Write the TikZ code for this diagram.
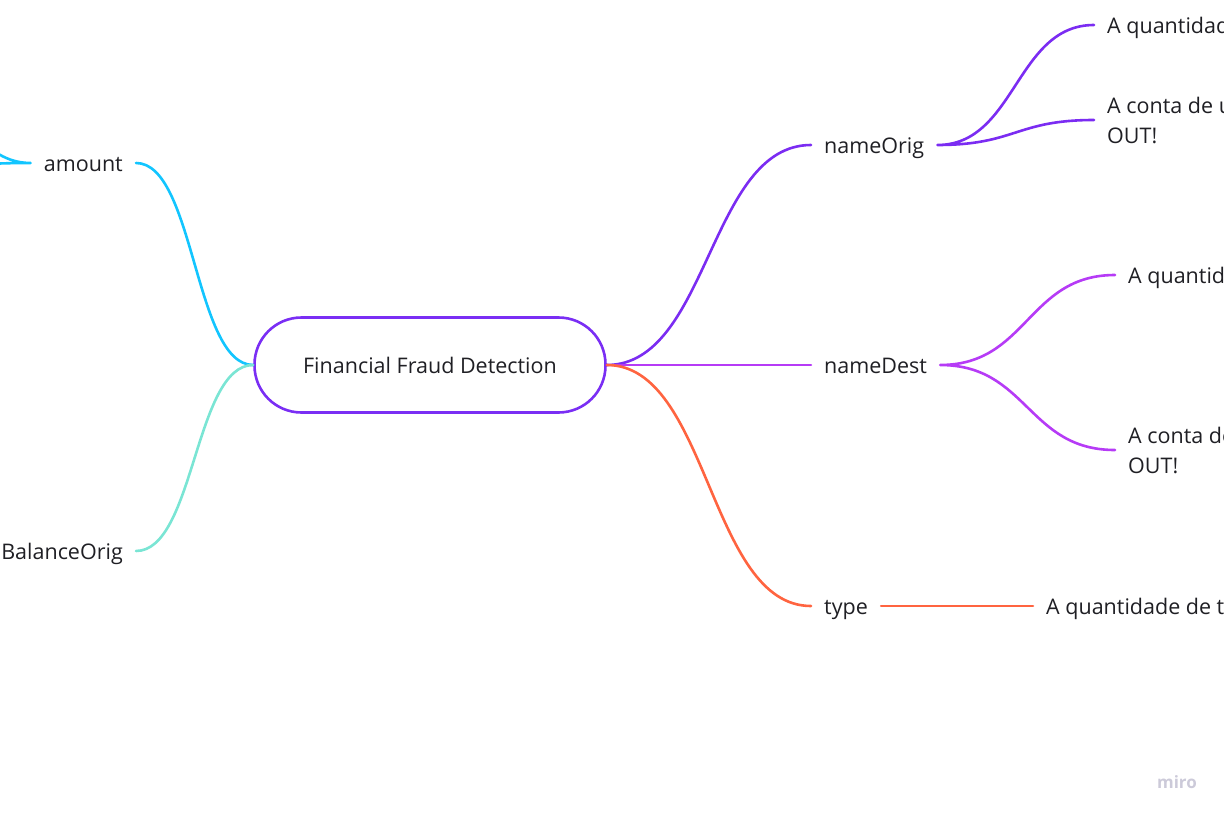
\documentclass[tikz,border=0pt]{standalone}
\usepackage{fontspec}
\setmainfont{Open Sans}
\usetikzlibrary{calc,positioning}
\definecolor{rootline}{HTML}{7A2EF4}
\definecolor{origline}{HTML}{7B2CF2}
\definecolor{destline}{HTML}{B63BF6}
\definecolor{typeline}{HTML}{FF6440}
\definecolor{amountline}{HTML}{12C5FF}
\definecolor{balanceline}{HTML}{7AE5D4}
\definecolor{mirogray}{HTML}{CCCAD9}
\definecolor{labeltext}{HTML}{1F1F24}
\tikzset{
  topic/.style={font=\fontsize{21.5}{30}\selectfont, text=labeltext,
    inner xsep=13pt, inner ysep=4pt},
  single/.style={topic, text height=18.5pt, text depth=1.5pt},
  branch/.style={line width=2.6pt, line cap=round,
    to path={let \p1=(\tikztostart), \p2=(\tikztotarget) in
      .. controls ({0.5*\x1+0.5*\x2},\y1) and ({0.5*\x1+0.5*\x2},\y2)
      .. (\tikztotarget) \tikztonodes}}
}
\begin{document}
\begin{tikzpicture}[x=1pt,y=-1pt]
        \useasboundingbox (0,0) rectangle (1224,816);
        \clip (0,0) rectangle (1224,816);
        % centre
        \node (fraud detection)
          [single, draw=rootline, line width=2.6pt, rounded corners=47pt,
           minimum width=351pt, minimum height=95pt]
          at (430,365) {Financial Fraud Detection};
        % right side
        \node (name orig) [single, anchor=west] at (811,145) {nameOrig};
        \node (name dest) [single, anchor=west] at (811,365) {nameDest};
        \node (type) [single, anchor=west] at (811,606) {type};
        \node (orig count) [single, anchor=west] at (1094,25)
          {A quantidade de transações};
        \node (orig account) [topic, anchor=west, align=left] at (1094,120)
          {A conta de um cliente CASH-\\OUT!};
        \node (dest count) [single, anchor=west] at (1115,275)
          {A quantidade de transações};
        \node (dest account) [topic, anchor=west, align=left] at (1115,450)
          {A conta de destino CASH-\\OUT!};
        \node (type count) [single, anchor=west] at (1033,606)
          {A quantidade de tipos};
        % left side
        \node (amount) [single, anchor=east] at (136,163) {amount};
        \node (balance orig) [single, anchor=east] at (136,551) {BalanceOrig};
        \coordinate (amount up) at (-160,-40);
        \coordinate (amount low) at (-160,175);
        % branches
        \draw [branch, draw=origline]
          (fraud detection.east) to (name orig.west)
        ;
        \draw [branch, draw=destline]
          (fraud detection.east) to (name dest.west)
        ;
        \draw [branch, draw=typeline]
          (fraud detection.east) to (type.west)
        ;
        \draw [branch, draw=origline]
          (name orig.east) to (orig count.west)
          (name orig.east) to (orig account.west)
        ;
        \draw [branch, draw=destline]
          (name dest.east) to (dest count.west)
          (name dest.east) to (dest account.west)
        ;
        \draw [branch, draw=typeline]
          (type.east) to (type count.west)
        ;
        \draw [branch, draw=amountline]
          (fraud detection.west) to (amount.east)
          (amount.west) to (amount up)
          (amount.west) to (amount low)
        ;
        \draw [branch, draw=balanceline]
          (fraud detection.west) to (balance orig.east)
        ;
        \node (miro) [font=\bfseries\fontsize{17}{17}\selectfont, text=mirogray]
          at (1177,782) {miro};
\end{tikzpicture}
\end{document}
